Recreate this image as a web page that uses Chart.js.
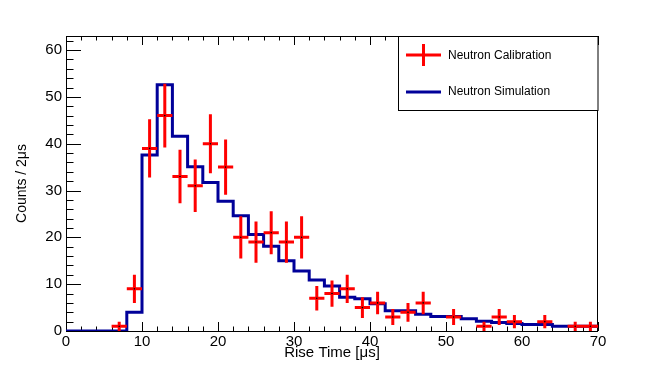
<!DOCTYPE html>
<html>
<head>
<meta charset="utf-8">
<script src="https://cdn.jsdelivr.net/npm/chart.js@4/dist/chart.umd.min.js"></script>
<style>
    html, body { margin: 0; padding: 0; background: #fff; }
    #wrap { width: 664px; height: 368px; }
</style>
</head>
<body>
<div id="wrap"><canvas id="riseChart" width="664" height="368"></canvas></div>
<script>
// Bin centres of the 2 us rise time bins, 0..70 us
const riseTime = [1, 3, 5, 7, 9, 11, 13, 15, 17, 19, 21, 23, 25, 27, 29, 31, 33, 35,
    37, 39, 41, 43, 45, 47, 49, 51, 53, 55, 57, 59, 61, 63, 65, 67, 69];
const binWidth = 2;

// Neutron calibration data (counts per bin) and their error bars
const calibration = [0, 0, 0, 1, 9, 39, 46, 33, 31, 40, 35, 20, 19, 21, 19, 20, 7, 8,
    9, 5, 6, 3, 4, 6, 0, 3, 0, 1, 3, 2, 0, 2, 0, 1, 1];
const calibrationErr = [0, 0, 0, 1, 3, 6.2, 6.8, 5.7, 5.6, 6.3, 5.9, 4.5, 4.4, 4.6, 4.4, 4.5, 2.6, 2.8,
    3, 2.2, 2.4, 1.7, 2, 2.4, 0, 1.7, 0, 1, 1.7, 1.4, 0, 1.4, 0, 1, 1];

// Neutron simulation histogram (scaled counts per bin)
const simulation = [0, 0, 0, 0, 4.0, 37.6, 52.6, 41.6, 35.1, 31.7, 27.7, 24.6, 20.6, 18.1, 15.0, 12.8, 10.9, 9.6,
    7.2, 6.9, 5.8, 4.3, 4.3, 3.6, 3.1, 3.1, 2.6, 2.1, 1.8, 1.6, 1.4, 1.4, 1.0, 1.0, 1.0];

const xTicks = [0, 10, 20, 30, 40, 50, 60, 70];
const yTicks = [0, 10, 20, 30, 40, 50, 60];

const RED = '#ff0000';
const BLUE = '#000099';
const FONT = 'Liberation Sans, Arial, Helvetica, sans-serif';

// histogram outline: one point per lower bin edge, plus the last upper edge
const simPoints = riseTime.map((c, i) => ({ x: c - binWidth / 2, y: simulation[i] }));
simPoints.push({ x: riseTime[riseTime.length - 1] + binWidth / 2, y: simulation[simulation.length - 1] });

const calPoints = riseTime
    .map((c, i) => ({ x: c, y: calibration[i], err: calibrationErr[i] }))
    .filter(p => p.y > 0);

// frame + inward ticks, ROOT style
const framePlugin = {
    id: 'frame',
    beforeDatasetsDraw(chart) {
        const { ctx, chartArea: a, scales } = chart;
        ctx.save();
        ctx.strokeStyle = '#000';
        ctx.lineWidth = 1;
        ctx.strokeRect(a.left + 0.5, a.top + 0.5, a.right - a.left - 1, a.bottom - a.top);

        ctx.beginPath();
        for (let v = 0; v <= 70; v += 2) {
            const x = Math.round(scales.x.getPixelForValue(v)) + 0.5;
            const len = v % 10 === 0 ? 9 : 4.5;
            ctx.moveTo(x, a.bottom);
            ctx.lineTo(x, a.bottom - len);
            ctx.moveTo(x, a.top);
            ctx.lineTo(x, a.top + len);
        }
        for (let v = 0; v <= 62; v += 2) {
            const y = Math.round(scales.y.getPixelForValue(v)) + 0.5;
            const len = v % 10 === 0 ? 15 : 7.5;
            ctx.moveTo(a.left, y);
            ctx.lineTo(a.left + len, y);
        }
        ctx.stroke();
        ctx.restore();
    },
    // error bars go right after the histogram, under the marker dots
    afterDatasetDraw(chart, args) {
        if (args.index !== 1) return;
        const { ctx, scales } = chart;
        ctx.save();
        ctx.strokeStyle = RED;
        ctx.lineWidth = 3;
        ctx.beginPath();
        calPoints.forEach(p => {
            const x = scales.x.getPixelForValue(p.x);
            const y = scales.y.getPixelForValue(p.y);
            ctx.moveTo(scales.x.getPixelForValue(p.x - binWidth / 2), y);
            ctx.lineTo(scales.x.getPixelForValue(p.x + binWidth / 2), y);
            ctx.moveTo(x, scales.y.getPixelForValue(p.y + p.err));
            ctx.lineTo(x, scales.y.getPixelForValue(Math.max(0, p.y - p.err)));
        });
        ctx.stroke();
        ctx.restore();
    },
    afterDraw(chart) {
        const { ctx, chartArea: a } = chart;
        // legend box, flush with the top right corner of the frame
        const lx = 398, ly = a.top, lw = Math.ceil(a.right) - lx, lh = 74;
        ctx.save();
        ctx.fillStyle = '#fff';
        ctx.fillRect(lx, ly, lw, lh);
        ctx.strokeStyle = '#000';
        ctx.lineWidth = 1;
        ctx.strokeRect(lx + 0.5, ly + 0.5, lw - 0.5, lh);

        ctx.strokeStyle = RED;
        ctx.lineWidth = 3;
        ctx.beginPath();
        ctx.moveTo(406, 55); ctx.lineTo(441, 55);
        ctx.moveTo(423.5, 44); ctx.lineTo(423.5, 66);
        ctx.stroke();

        ctx.strokeStyle = BLUE;
        ctx.beginPath();
        ctx.moveTo(406, 92); ctx.lineTo(441, 92);
        ctx.stroke();

        ctx.fillStyle = '#000';
        ctx.font = '12px ' + FONT;
        ctx.textBaseline = 'middle';
        ctx.fillText('Neutron Calibration', 448, 56);
        ctx.fillText('Neutron Simulation', 448, 92);
        ctx.restore();
    }
};

new Chart(document.getElementById('riseChart'), {
    type: 'scatter',
    data: {
        datasets: [
            {
                label: 'Neutron Calibration',
                data: calPoints,
                pointRadius: 0.8,
                pointBackgroundColor: '#000',
                pointBorderWidth: 0,
                showLine: false
            },
            {
                label: 'Neutron Simulation',
                data: simPoints,
                showLine: true,
                stepped: true,
                borderColor: BLUE,
                borderWidth: 3,
                pointRadius: 0,
                fill: false
            }
        ]
    },
    options: {
        responsive: false,
        animation: false,
        events: [],
        layout: { padding: { left: 0, right: 66, top: 36, bottom: 0 } },
        plugins: {
            legend: { display: false },
            tooltip: { enabled: false }
        },
        scales: {
            x: {
                type: 'linear',
                min: 0,
                max: 70,
                afterFit: scale => { scale.height = 37; },
                afterBuildTicks: scale => { scale.ticks = xTicks.map(v => ({ value: v })); },
                grid: { display: false, drawTicks: false },
                border: { display: false },
                ticks: { color: '#000', font: { family: FONT, size: 15 }, padding: 2, maxRotation: 0 },
                title: {
                    display: true,
                    text: 'Rise Time [μs]',
                    color: '#000',
                    font: { family: FONT, size: 15 },
                    padding: { top: 0, bottom: 6 }
                }
            },
            y: {
                min: 0,
                max: 63,
                afterFit: scale => { scale.width = 66; },
                afterBuildTicks: scale => { scale.ticks = yTicks.map(v => ({ value: v })); },
                grid: { display: false, drawTicks: false },
                border: { display: false },
                ticks: { color: '#000', font: { family: FONT, size: 15 }, padding: 4 },
                title: {
                    display: true,
                    text: 'Counts / 2μs',
                    color: '#000',
                    font: { family: FONT, size: 14 },
                    padding: { top: 14, bottom: 0 }
                }
            }
        }
    },
    plugins: [framePlugin]
});
</script>
</body>
</html>
